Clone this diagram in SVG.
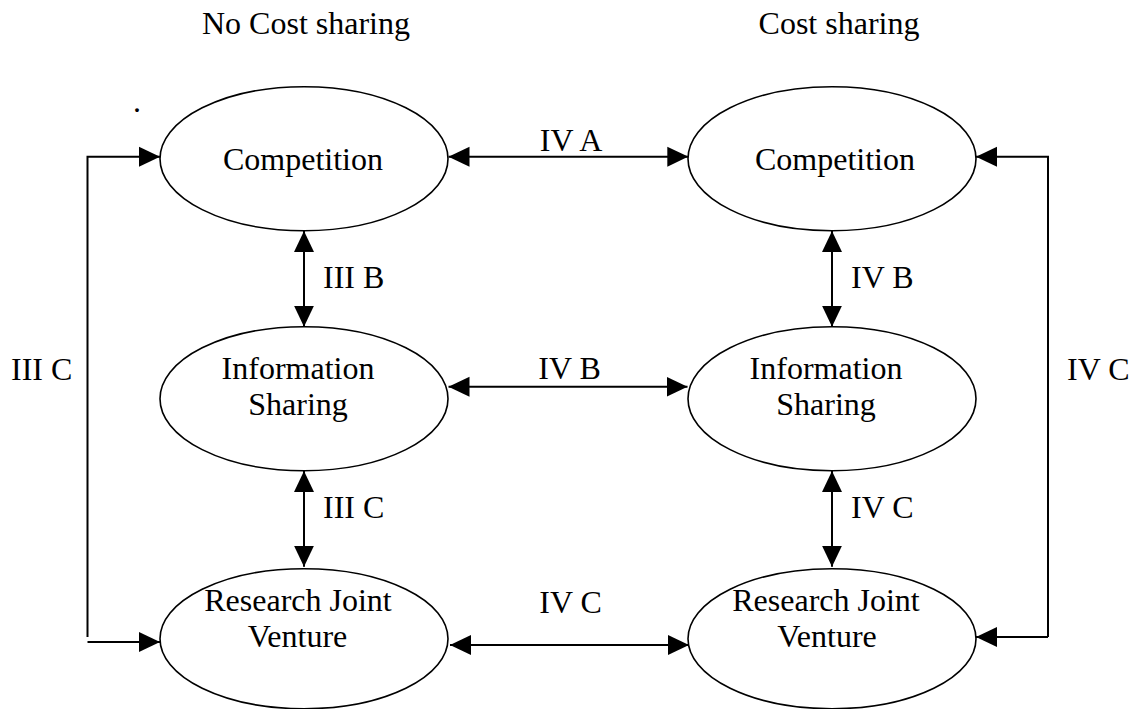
<svg xmlns="http://www.w3.org/2000/svg" width="1141" height="709" viewBox="0 0 1141 709">
<defs>
<style>
text{font-family:"Liberation Serif","Times New Roman",serif;font-size:32px;fill:#000}
.node ellipse{fill:#fff;stroke:#000;stroke-width:1.6}
.c{text-anchor:middle}
#connectors path{fill:none;stroke:#000;stroke-width:2;marker-end:url(#ah)}
#connectors path.both{marker-start:url(#ah)}
#connectors path.plain{marker-end:none}
</style>
<marker id="ah" markerUnits="userSpaceOnUse" markerWidth="21" markerHeight="21" refX="21" refY="10" orient="auto-start-reverse" viewBox="0 0 21 20">
<path d="M0,0 L21,10 L0,20 z" fill="#000"/>
</marker>
</defs>
<rect width="1141" height="709" fill="#fff"/>

<g id="headers">
<text x="306" y="34" class="c">No Cost sharing</text>
<text x="839" y="34" class="c">Cost sharing</text>
<text x="133" y="112" font-size="16">.</text>
</g>

<g id="connectors">
<path class="both" d="M448.5,156.7 H688.3"/>
<path class="both" d="M448.5,386.7 H687.5"/>
<path class="both" d="M450,645 H689"/>
<path class="both" d="M304,231 V326.7"/>
<path class="both" d="M304,471 V566.7"/>
<path class="both" d="M832,231 V326.7"/>
<path class="both" d="M832,471 V566.7"/>
<path d="M87.5,637 V156.7 H160"/>
<path d="M87.5,642 H160"/>
<path d="M1048,637 V156.7 H976"/>
<path d="M1048,637 H976"/>
</g>

<g id="labels">
<text x="571" y="151" class="c">IV A</text>
<text x="569.5" y="379" class="c">IV B</text>
<text x="570.5" y="613" class="c">IV C</text>
<text x="323" y="288">III B</text>
<text x="323" y="518">III C</text>
<text x="851" y="288">IV B</text>
<text x="851" y="518">IV C</text>
<text x="11" y="379.5">III C</text>
<text x="1067" y="380">IV C</text>
</g>

<g id="comp-nocost" class="node">
<ellipse cx="304" cy="158.7" rx="144" ry="72"/>
<text x="303" y="170" class="c">Competition</text>
</g>
<g id="info-nocost" class="node">
<ellipse cx="304" cy="398.7" rx="144" ry="72"/>
<text x="298" y="378.5" class="c">Information</text>
<text x="298" y="415" class="c">Sharing</text>
</g>
<g id="rjv-nocost" class="node">
<ellipse cx="304" cy="638.7" rx="144" ry="70"/>
<text x="298" y="610.7" class="c">Research Joint</text>
<text x="297.5" y="647.3" class="c">Venture</text>
</g>
<g id="comp-cost" class="node">
<ellipse cx="832" cy="158.7" rx="144" ry="72"/>
<text x="835" y="170" class="c">Competition</text>
</g>
<g id="info-cost" class="node">
<ellipse cx="832" cy="398.7" rx="144" ry="72"/>
<text x="826" y="379" class="c">Information</text>
<text x="826" y="415" class="c">Sharing</text>
</g>
<g id="rjv-cost" class="node">
<ellipse cx="832" cy="638.7" rx="144" ry="70"/>
<text x="826" y="610.7" class="c">Research Joint</text>
<text x="827" y="647" class="c">Venture</text>
</g>
</svg>
